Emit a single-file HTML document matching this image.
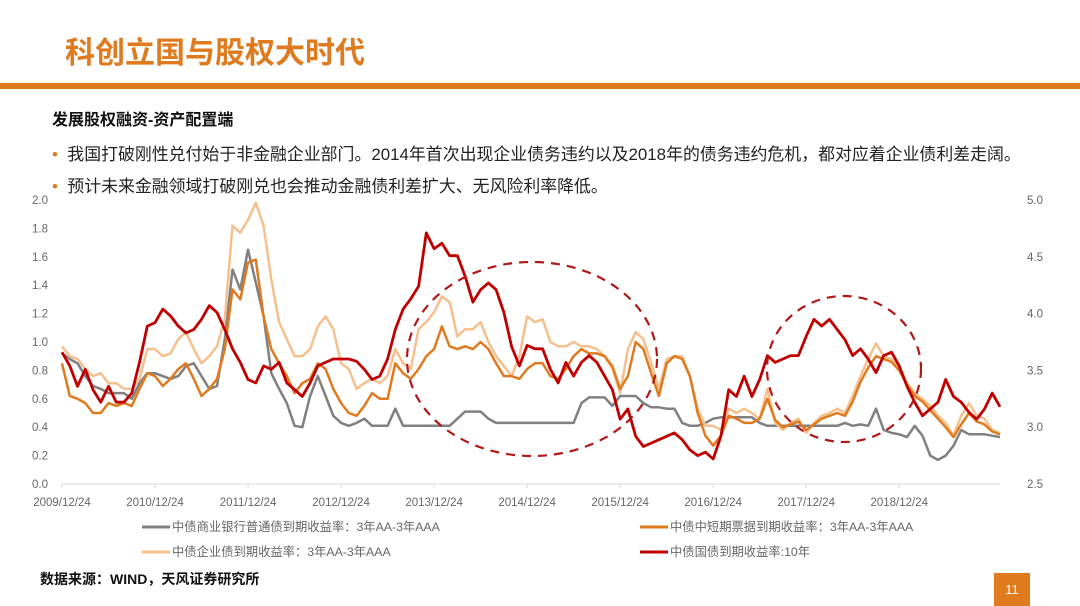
<!DOCTYPE html>
<html><head><meta charset="utf-8"><style>
body{margin:0;width:1080px;height:606px;background:#fff;overflow:hidden;position:relative;font-family:"Liberation Sans","Noto Sans CJK SC",sans-serif}
.abs{position:absolute;white-space:nowrap}
</style></head><body>
<div class="abs" style="left:65px;top:28px;font-size:30px;font-weight:bold;color:#E07A1F">科创立国与股权大时代</div>
<div class="abs" style="left:0;top:83px;width:1080px;height:6px;background:#E07A1F"></div>
<div class="abs" style="left:52px;top:106px;font-size:16px;font-weight:bold;color:#111">发展股权融资-资产配置端</div>
<div class="abs" style="left:52px;top:140px;font-size:16.9px;color:#222"><span style="color:#E07A1F">•</span>&nbsp;&nbsp;我国打破刚性兑付始于非金融企业部门。2014年首次出现企业债务违约以及2018年的债务违约危机，都对应着企业债利差走阔。</div>
<div class="abs" style="left:52px;top:172px;font-size:16.9px;color:#222"><span style="color:#E07A1F">•</span>&nbsp;&nbsp;预计未来金融领域打破刚兑也会推动金融债利差扩大、无风险利率降低。</div>
<svg id="chart" width="1080" height="606" style="position:absolute;left:0;top:0"></svg>
<div class="abs" style="left:40px;top:569px;font-size:14px;font-weight:bold;color:#111">数据来源：WIND，天风证券研究所</div>
<div class="abs" style="left:994px;top:573px;width:36px;height:33px;background:#E07A1F;color:#fff;font-size:13px;text-align:center;line-height:33px">11</div>
<script>
const yTicksLeft=[0.0,0.2,0.4,0.6,0.8,1.0,1.2,1.4,1.6,1.8,2.0];
const yTicksRight=[2.5,3.0,3.5,4.0,4.5,5.0];
const xTickLabels=["2009/12/24","2010/12/24","2011/12/24","2012/12/24","2013/12/24","2014/12/24","2015/12/24","2016/12/24","2017/12/24","2018/12/24"];
const seriesNames=["中债商业银行普通债到期收益率：3年AA-3年AAA","中债中短期票据到期收益率：3年AA-3年AAA","中债企业债到期收益率：3年AA-3年AAA","中债国债到期收益率:10年"];
const grayVals=[0.92,0.88,0.85,0.76,0.69,0.67,0.64,0.64,0.64,0.60,0.71,0.78,0.78,0.76,0.74,0.76,0.83,0.85,0.76,0.67,0.69,1.02,1.51,1.37,1.65,1.42,1.18,0.78,0.67,0.57,0.41,0.40,0.62,0.76,0.62,0.48,0.43,0.41,0.43,0.46,0.41,0.41,0.41,0.53,0.41,0.41,0.41,0.41,0.41,0.41,0.41,0.46,0.51,0.51,0.51,0.46,0.43,0.43,0.43,0.43,0.43,0.43,0.43,0.43,0.43,0.43,0.43,0.57,0.61,0.61,0.61,0.55,0.62,0.62,0.62,0.57,0.54,0.54,0.53,0.53,0.43,0.41,0.41,0.43,0.46,0.47,0.47,0.47,0.47,0.47,0.43,0.41,0.41,0.41,0.41,0.41,0.41,0.41,0.41,0.41,0.41,0.43,0.41,0.42,0.41,0.53,0.38,0.36,0.35,0.33,0.41,0.34,0.20,0.17,0.20,0.27,0.38,0.35,0.35,0.35,0.34,0.33];
const orangeVals=[0.85,0.62,0.60,0.57,0.50,0.50,0.57,0.55,0.57,0.55,0.67,0.78,0.76,0.69,0.74,0.81,0.85,0.74,0.62,0.67,0.74,0.95,1.37,1.30,1.56,1.58,1.18,0.95,0.85,0.76,0.64,0.71,0.74,0.85,0.81,0.67,0.57,0.50,0.48,0.55,0.64,0.60,0.60,0.85,0.78,0.74,0.81,0.90,0.95,1.11,0.97,0.95,0.97,0.95,1.00,0.95,0.85,0.76,0.76,0.74,0.81,0.85,0.85,0.76,0.74,0.81,0.90,0.95,0.92,0.92,0.90,0.83,0.67,0.76,1.00,0.95,0.78,0.62,0.85,0.90,0.88,0.76,0.50,0.34,0.27,0.34,0.48,0.46,0.43,0.43,0.46,0.60,0.45,0.40,0.42,0.44,0.38,0.42,0.46,0.48,0.50,0.48,0.58,0.72,0.82,0.90,0.88,0.86,0.80,0.70,0.62,0.58,0.52,0.46,0.40,0.33,0.42,0.50,0.44,0.42,0.37,0.35];
const lightVals=[0.97,0.90,0.88,0.81,0.76,0.78,0.71,0.71,0.67,0.67,0.74,0.95,0.95,0.90,0.92,1.02,1.07,0.95,0.85,0.90,0.97,1.16,1.82,1.77,1.86,1.98,1.82,1.44,1.14,1.02,0.90,0.90,0.95,1.11,1.18,1.09,0.85,0.81,0.67,0.71,0.74,0.71,0.76,0.95,0.85,0.81,1.09,1.14,1.21,1.32,1.28,1.04,1.09,1.09,1.14,1.00,0.90,0.83,0.76,0.90,1.18,1.14,1.16,1.00,0.97,0.97,1.00,0.97,0.97,0.95,0.90,0.81,0.64,0.95,1.07,1.02,0.85,0.67,0.88,0.90,0.90,0.76,0.53,0.41,0.41,0.38,0.53,0.50,0.53,0.50,0.46,0.67,0.43,0.38,0.43,0.46,0.36,0.43,0.48,0.50,0.53,0.50,0.62,0.76,0.88,0.99,0.90,0.88,0.83,0.71,0.64,0.60,0.55,0.48,0.43,0.34,0.48,0.57,0.48,0.46,0.38,0.36];
const redVals=[3.66,3.54,3.36,3.51,3.33,3.22,3.36,3.22,3.22,3.30,3.57,3.89,3.92,4.04,3.98,3.89,3.83,3.86,3.95,4.07,4.01,3.86,3.69,3.57,3.42,3.39,3.54,3.51,3.57,3.39,3.33,3.27,3.39,3.54,3.57,3.60,3.60,3.60,3.58,3.51,3.42,3.45,3.60,3.86,4.04,4.13,4.24,4.71,4.57,4.62,4.51,4.51,4.33,4.10,4.21,4.27,4.21,4.01,3.71,3.54,3.72,3.69,3.69,3.51,3.39,3.57,3.45,3.57,3.63,3.57,3.45,3.33,3.07,3.16,2.92,2.83,2.86,2.89,2.92,2.95,2.89,2.80,2.75,2.78,2.72,2.92,3.33,3.27,3.45,3.27,3.42,3.63,3.57,3.60,3.63,3.63,3.80,3.95,3.89,3.95,3.86,3.77,3.63,3.69,3.60,3.48,3.63,3.66,3.54,3.36,3.22,3.10,3.16,3.22,3.42,3.27,3.22,3.13,3.07,3.16,3.30,3.18];

const NS='http://www.w3.org/2000/svg';
const svg=document.getElementById('chart');
const X0=62,X1=1000,Y0=484,Y1=200,NM=121;
const xm=m=>X0+(X1-X0)*m/NM;
const yl=v=>Y0-(v-0)/(2-0)*(Y0-Y1);
const yr=v=>Y0-(v-2.5)/(5-2.5)*(Y0-Y1);
function mk(t,a){const e=document.createElementNS(NS,t);for(const k in a)e.setAttribute(k,a[k]);svg.appendChild(e);return e;}
let ax=mk('line',{x1:X0,x2:X1,y1:Y0,y2:Y0,stroke:'#d9d9d9','stroke-width':1});


yTicksLeft.forEach(v=>{const t=mk('text',{x:48,y:yl(v)+4,'font-size':11.5,fill:'#666','text-anchor':'end'});t.textContent=v.toFixed(1);

});
yTicksRight.forEach(v=>{const t=mk('text',{x:1027,y:yr(v)+4,'font-size':11.5,fill:'#666'});t.textContent=v.toFixed(1);

});
xTickLabels.forEach((s,i)=>{const x=xm(i*12);mk('line',{x1:x,x2:x,y1:Y0,y2:Y0+4,stroke:'#d9d9d9'});
const t=mk('text',{x:x,y:Y0+22,'font-size':11.5,fill:'#666','text-anchor':'middle'});t.textContent=s;

});
function line(vals,fn,color,w,name){const p=mk('polyline',{points:vals.map((v,i)=>xm(i).toFixed(1)+','+fn(v).toFixed(1)).join(' '),fill:'none',stroke:color,'stroke-width':w,'stroke-linejoin':'round'});

}
line(grayVals,yl,'#808080',2.5,'series-bank-bond-spread');
line(lightVals,yl,'#F5C08E',2.5,'series-corporate-bond-spread');
line(orangeVals,yl,'#E07A1F',2.5,'series-mtn-spread');
line(redVals,yr,'#C00000',2.8,'series-10y-treasury');
let e1=mk('ellipse',{cx:532,cy:359,rx:125,ry:97,fill:'none',stroke:'#B01818','stroke-width':2.2,'stroke-dasharray':'9,7'});


let e2=mk('ellipse',{cx:844,cy:369,rx:77,ry:73,fill:'none',stroke:'#B01818','stroke-width':2.2,'stroke-dasharray':'9,7'});


const legPos=[[142,527,'#808080'],[640,527,'#E07A1F'],[142,552,'#F5C08E'],[640,552,'#C00000']];
legPos.forEach((p,i)=>{const l=mk('line',{x1:p[0],x2:p[0]+28,y1:p[1],y2:p[1],stroke:p[2],'stroke-width':3});


const t=mk('text',{x:p[0]+30,y:p[1]+4,'font-size':12.3,fill:'#666'});t.textContent=seriesNames[i];

});
</script>
</body></html>
